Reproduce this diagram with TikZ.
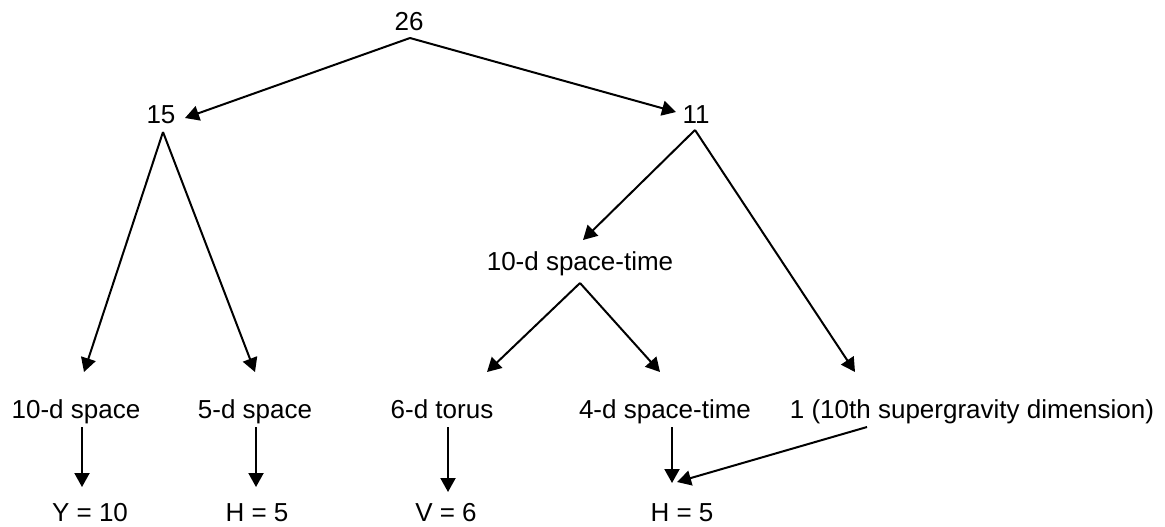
\documentclass[tikz,border=0pt]{standalone}
\usepackage{fontspec}
\setmainfont{Liberation Sans}
\usetikzlibrary{arrows.meta,calc}
\begin{document}
\begin{tikzpicture}[x=0.5pt,y=-0.5pt,
  lbl/.style={anchor=base,inner sep=0pt,font=\fontsize{13}{15}\selectfont},
  arr/.style={line width=1pt,-{Triangle[length=7pt,width=7.5pt]}}]
\useasboundingbox (0,0) rectangle (1165,526);
\node[lbl] (n26) at (409,30) {26};
\node[lbl] (n15) at (161,123) {15};
\node[lbl] (n11) at (696,123) {11};
\node[lbl] (st10) at (580,270) {10-d space-time};
\node[lbl] (s10) at (76,418) {10-d space};
\node[lbl] (s5) at (255,418) {5-d space};
\node[lbl] (t6) at (442,418) {6-d torus};
\node[lbl] (st4) at (665,418) {4-d space-time};
\node[lbl] (one) at (972,418) {1 (10th supergravity dimension)};
\node[lbl] (y10) at (90,521) {Y = 10};
\node[lbl] (h5a) at (257,521) {H = 5};
\node[lbl] (v6) at (446,521) {V = 6};
\node[lbl] (h5b) at (682,521) {H = 5};
% level 1
\draw[arr] ($(n26.base)+(1,8)$) -- ($(n15.base)+(24,-5)$);
\draw[arr] ($(n26.base)+(1,8)$) -- ($(n11.base)+(-20,-11)$);
% from 15
\draw[arr] ($(n15.base)+(2,9)$) -- ($(s10.base)+(8,-46)$);
\draw[arr] ($(n15.base)+(2,9)$) -- ($(s5.base)+(0,-46)$);
% from 11
\draw[arr] ($(n11.base)+(-1,7)$) -- ($(st10.base)+(3,-30)$);
\draw[arr] ($(n11.base)+(-1,7)$) -- ($(one.base)+(-117,-46)$);
% from 10-d space-time
\draw[arr] ($(st10.base)+(0,13)$) -- ($(t6.base)+(45,-46)$);
\draw[arr] ($(st10.base)+(0,13)$) -- ($(st4.base)+(-5,-46)$);
% bottom
\draw[arr] ($(s10.base)+(6,9)$) -- ($(y10.base)+(-8,-34)$);
\draw[arr] ($(s5.base)+(1,9)$) -- ($(h5a.base)+(-1,-34)$);
\draw[arr] ($(t6.base)+(6,9)$) -- ($(v6.base)+(2,-29)$);
\draw[arr] ($(st4.base)+(7,9)$) -- ($(h5b.base)+(-10,-38)$);
\draw[arr] ($(one.base)+(-105,9)$) -- ($(h5b.base)+(-5,-39)$);
\end{tikzpicture}
\end{document}
